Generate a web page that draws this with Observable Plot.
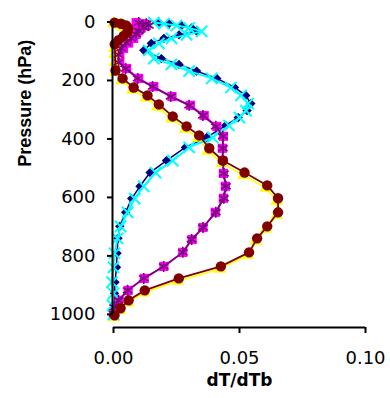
<!DOCTYPE html>
<html>
<head>
<meta charset="utf-8">
<script src="https://cdn.jsdelivr.net/npm/d3@7"></script>
<script src="https://cdn.jsdelivr.net/npm/@observablehq/plot@0.6"></script>
<style>
  html, body { margin: 0; padding: 0; background: #fff; }
  #chart { width: 390px; height: 398px; }
</style>
</head>
<body>
<div id="chart"></div>
<script>
// ---- Data (pressure in hPa, value dT/dTb) ----
const pNavy = [2, 6, 12, 20, 32, 44, 56, 73, 97, 125, 145, 168, 193, 224, 251, 279, 303, 327, 354, 395, 429, 474, 515, 562, 604, 651, 699, 740, 791, 839, 890, 928, 969, 1000];
const vNavy = [0.018, 0.022, 0.027, 0.031, 0.033, 0.026, 0.020, 0.015, 0.012, 0.019, 0.026, 0.033, 0.041, 0.048, 0.0525, 0.0545, 0.053, 0.0495, 0.0445, 0.037, 0.0285, 0.021, 0.0145, 0.0105, 0.0072, 0.0048, 0.0025, 0.0018, 0.0014, 0.0012, 0.0006, 0.0004, 0.0002, 0.0];

const pMagenta = [2, 6, 12, 20, 30, 42, 56, 72, 90, 112, 138, 159, 193, 221, 255, 285, 320, 357, 391, 432, 474, 518, 562, 603, 651, 703, 744, 788, 836, 877, 918, 952, 976, 997];
const vMagenta = [0.009, 0.012, 0.013, 0.011, 0.010, 0.009, 0.008, 0.006, 0.004, 0.0025, 0.0025, 0.0052, 0.010, 0.016, 0.0232, 0.0305, 0.036, 0.041, 0.0436, 0.0432, 0.0432, 0.0436, 0.0444, 0.0436, 0.0404, 0.0355, 0.0312, 0.0275, 0.020, 0.0122, 0.0058, 0.0022, 0.0004, 0.0];

const pYellow = [5, 10, 17, 28, 42, 56, 72, 90, 110, 138, 172, 200, 232, 259, 291, 331, 366, 397, 441, 483, 524, 568, 612, 660, 708, 749, 797, 845, 886, 926, 960, 987, 1010];
const vYellow = [0.0, 0.002, 0.004, 0.005, 0.0045, 0.003, 0.0012, 0.0003, 0.0004, 0.0006, 0.0008, 0.0032, 0.0076, 0.013, 0.0175, 0.023, 0.0285, 0.0335, 0.0375, 0.043, 0.0515, 0.0605, 0.0648, 0.0648, 0.0605, 0.0565, 0.0533, 0.0422, 0.0255, 0.012, 0.0057, 0.0025, 0.0002];

const pCyan = [2, 6, 12, 20, 32, 44, 56, 73, 97, 125, 145, 168, 193, 224, 251, 279, 303, 327, 354, 395, 429, 474, 515, 562, 604, 651, 699, 740, 791, 839, 890, 928, 969, 1000];
const vCyan = [0.016, 0.020, 0.025, 0.030, 0.035, 0.029, 0.023, 0.018, 0.014, 0.016, 0.023, 0.030, 0.039, 0.0466, 0.0506, 0.0534, 0.0526, 0.050, 0.0458, 0.0394, 0.030, 0.0235, 0.0167, 0.012, 0.0084, 0.0056, 0.0028, 0.0016, 0.0004, 0.0, -0.0006, 0.0, -0.0004, 0.0];

const pPurple = [2, 6, 12, 20, 30, 42, 56, 72, 90, 112, 138, 159, 193, 221, 255, 285, 320, 357, 391, 432, 474, 518, 562, 603, 651, 703, 744, 788, 836, 877, 918, 952, 976, 997];
const vPurple = [0.010, 0.013, 0.014, 0.012, 0.010, 0.009, 0.007, 0.005, 0.003, 0.002, 0.002, 0.0048, 0.0096, 0.0155, 0.0227, 0.030, 0.0355, 0.0406, 0.0434, 0.0434, 0.0434, 0.0438, 0.0446, 0.0438, 0.0406, 0.0355, 0.031, 0.0275, 0.0199, 0.012, 0.0056, 0.002, 0.0003, 0.0];

const pMaroon = [2, 6, 12, 22, 35, 48, 62, 76, 166, 193, 224, 251, 282, 323, 357, 388, 432, 474, 515, 559, 603, 651, 699, 740, 788, 836, 877, 918, 952, 979, 1003];
const vMaroon = [0.0004, 0.003, 0.005, 0.006, 0.0055, 0.004, 0.002, 0.0005, 0.0008, 0.0036, 0.008, 0.0135, 0.018, 0.0235, 0.029, 0.034, 0.038, 0.0434, 0.052, 0.061, 0.0653, 0.0653, 0.061, 0.057, 0.0538, 0.0426, 0.0259, 0.0124, 0.006, 0.0028, 0.0004];

// ---- Axis ticks and titles ----
const xTicks = [0, 0.05, 0.10];
const yTicks = [0, 200, 400, 600, 800, 1000];
const xTitle = "dT/dTb";
const yTitle = "Pressure (hPa)";

const rows = (p, v) => p.map((pp, i) => ({p: pp, v: v[i]}));

const series = [
  {data: rows(pNavy, vNavy), color: "#000080", symbol: "diamond2", r: 4.2, filled: true, lw: 1.5},
  {data: rows(pMagenta, vMagenta), color: "#FF00FF", symbol: "square", r: 5.2, filled: true, lw: 1.5},
  {data: rows(pYellow, vYellow), color: "#FFFF00", symbol: "triangle", r: 4.8, filled: true, lw: 1.5},
  {data: rows(pCyan, vCyan), color: "#00FFFF", symbol: "times", r: 5.2, filled: false, sw: 2, lw: 2},
  {data: rows(pPurple, vPurple), color: "#800080", symbol: "asterisk", r: 5.2, filled: false, sw: 1.6, lw: 1.8},
  {data: rows(pMaroon, vMaroon), color: "#800000", symbol: "circle", r: 5.2, filled: true, lw: 1.8}
];

const marks = [];
for (const s of series) {
  marks.push(Plot.line(s.data, {x: "v", y: "p", stroke: s.color, strokeWidth: s.lw}));
  marks.push(Plot.dot(s.data, s.filled
    ? {x: "v", y: "p", symbol: () => s.symbol, r: s.r, fill: s.color, stroke: "none"}
    : {x: "v", y: "p", symbol: () => s.symbol, r: s.r, fill: "none", stroke: s.color, strokeWidth: s.sw}));
}

const chart = Plot.plot({
  width: 390,
  height: 398,
  marginLeft: 113,
  marginRight: 25,
  marginTop: 21.5,
  marginBottom: 71,
  style: {fontFamily: "DejaVu Sans", fontSize: "18px", color: "#000", background: "#fff"},
  symbol: {type: "identity"},
  x: {domain: [0, 0.1]},
  y: {domain: [0, 1045], reverse: true},
  marks: [
    ...marks,
    Plot.ruleX([0], {y1: 0, y2: 1000, stroke: "#000", strokeWidth: 2, dx: -1}),
    Plot.ruleY([1045], {stroke: "#000", strokeWidth: 2}),
    Plot.axisX({ticks: xTicks, tickFormat: d3.format(".2f"), tickSize: 6, tickPadding: 18, strokeWidth: 2, label: null, fontSize: 18}),
    Plot.axisY({ticks: yTicks, tickFormat: d3.format("d"), tickSize: 6, tickPadding: 12, strokeWidth: 2, label: null, fontSize: 18}),
    Plot.text([xTitle], {text: d => d, frameAnchor: "bottom", dy: 58, fontWeight: "bold", fontSize: 17, fontFamily: "DejaVu Sans"}),
    Plot.text([yTitle], {text: d => d, frameAnchor: "left", dx: -88, dy: -8, rotate: -90, fontWeight: "bold", fontSize: 18, fontFamily: "Liberation Sans"})
  ]
});
document.getElementById("chart").appendChild(chart);
</script>
</body>
</html>
